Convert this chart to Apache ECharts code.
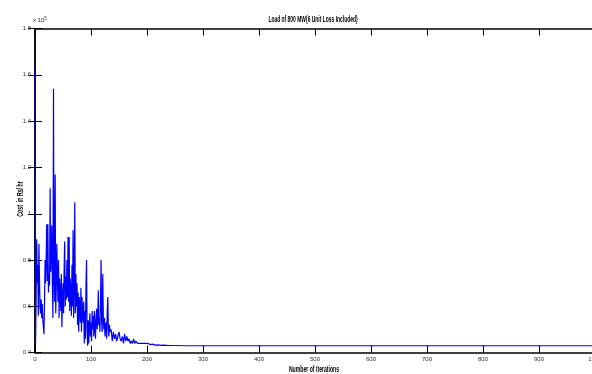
<!DOCTYPE html>
<html>
<head>
<meta charset="utf-8">
<script src="https://cdn.jsdelivr.net/npm/echarts@6/dist/echarts.min.js"></script>
<style>
html, body { margin: 0; padding: 0; overflow: hidden; background: #fff; }
#chart { width: 592px; height: 374px; }
</style>
</head>
<body>
<div id="chart"></div>
<script>
// cost values are in units of 10^5 Rs/hr
const iterations = [
  0, 1, 2, 3, 4, 5, 6, 7, 8, 9, 10, 11, 12, 13, 14, 16, 17, 18, 19, 20,
  21, 22, 23, 24, 25, 26, 27, 28, 29, 30, 31, 32, 33, 34, 35, 36, 37, 38, 39, 40,
  41, 42, 43, 44, 45, 46, 47, 48, 49, 50, 51, 52, 53, 54, 55, 56, 57, 58, 59, 60,
  61, 62, 63, 64, 65, 66, 67, 68, 69, 70, 71, 72, 73, 74, 75, 76, 77, 78, 79, 80,
  81, 82, 83, 84, 85, 86, 87, 88, 89, 90, 91, 92, 93, 94, 95, 96, 97, 98, 99, 100,
  101, 102, 103, 104, 105, 106, 107, 108, 109, 110, 111, 112, 113, 114, 115, 116, 117, 118, 119, 120,
  121, 122, 123, 124, 125, 126, 127, 128, 129, 130, 131, 132, 133, 134, 136, 138, 140, 142, 144, 146,
  148, 150, 152, 154, 156, 158, 160, 162, 164, 166, 168, 170, 172, 174, 176, 178, 180, 183, 186, 189,
  192, 195, 198, 202, 206, 210, 215, 220, 225, 230, 240, 250, 270, 300, 1000
]
const costs = [
  1.63, 0.44, 0.62, 0.89, 0.70, 0.78, 0.56, 0.87, 0.72, 0.60, 0.57, 0.63, 0.55, 0.61, 0.54, 0.48, 0.62, 0.80, 0.70, 0.82,
  0.955, 0.71, 0.955, 0.66, 0.74, 0.69, 1.11, 0.75, 0.82, 0.95, 0.70, 0.55, 1.54, 0.74, 0.62, 1.17, 0.57, 0.68, 0.87, 0.72,
  0.62, 0.80, 0.55, 0.72, 0.66, 0.58, 0.74, 0.51, 0.62, 0.70, 0.57, 0.76, 0.88, 0.60, 0.73, 0.63, 0.80, 0.64, 0.90, 0.62,
  0.90, 0.58, 0.72, 0.66, 0.56, 0.78, 0.60, 0.93, 0.55, 0.70, 1.05, 0.57, 0.74, 0.60, 0.70, 0.52, 0.66, 0.49, 0.64, 0.60,
  0.53, 0.68, 0.49, 0.64, 0.56, 0.53, 0.62, 0.44, 0.58, 0.46, 0.68, 0.80, 0.50, 0.43, 0.54, 0.44, 0.52, 0.57, 0.47, 0.53,
  0.45, 0.58, 0.50, 0.56, 0.47, 0.58, 0.52, 0.46, 0.55, 0.59, 0.50, 0.54, 0.67, 0.52, 0.55, 0.49, 0.63, 0.80, 0.53, 0.49,
  0.74, 0.55, 0.50, 0.55, 0.47, 0.52, 0.53, 0.46, 0.58, 0.64, 0.50, 0.47, 0.52, 0.49, 0.50, 0.45, 0.49, 0.46, 0.48, 0.45,
  0.47, 0.49, 0.46, 0.45, 0.47, 0.44, 0.48, 0.45, 0.47, 0.45, 0.46, 0.44, 0.45, 0.44, 0.46, 0.44, 0.45, 0.44, 0.445, 0.44,
  0.445, 0.44, 0.437, 0.44, 0.435, 0.437, 0.433, 0.434, 0.432, 0.433, 0.431, 0.431, 0.43, 0.43, 0.43
]
const titleText = 'Load of 800 MW(6 Unit Loss Included)'
const xName = 'Number of Iterations'
const yName = 'Cost  in Rs/ hr'

const chart = echarts.init(document.getElementById('chart'))
const font = "'Liberation Sans Narrow', 'Liberation Sans', Arial, sans-serif"
const nameStyle = { fontFamily: font, fontSize: 9.5, fontWeight: 'bold', fill: '#000', align: 'center', verticalAlign: 'middle' }

const axisCommon = {
  axisLine: { show: true, lineStyle: { color: '#000', width: 1.5 } },
  axisTick: { show: true, inside: true, length: 7, lineStyle: { color: '#000', width: 1 } },
  splitLine: { show: false }
}

chart.setOption({
  animation: false,
  backgroundColor: '#fff',
  // plot runs past the right edge of the window, like the reference
  grid: { left: 35, top: 28.5, right: -3, bottom: 21.3, containLabel: false, outerBoundsMode: 'none' },
  xAxis: [
    Object.assign({
      type: 'value', min: 0, max: 1000, interval: 100, position: 'bottom',
      axisLabel: { fontFamily: font, fontSize: 6, color: '#333', margin: 4, formatter: v => String(v) }
    }, axisCommon),
    Object.assign({
      type: 'value', min: 0, max: 1000, interval: 100, position: 'top',
      axisLabel: { show: false }
    }, axisCommon)
  ],
  yAxis: [
    Object.assign({
      type: 'value', min: 0.4, max: 1.8, interval: 0.2, position: 'left',
      axisLabel: { fontFamily: font, fontSize: 6, color: '#333', margin: 4 }
    }, axisCommon),
    Object.assign({
      type: 'value', min: 0.4, max: 1.8, interval: 0.2, position: 'right',
      axisLabel: { show: false }
    }, axisCommon)
  ],
  graphic: [
    {
      type: 'text', x: 313, y: 19, scaleX: 0.52,
      style: Object.assign({ text: titleText }, nameStyle)
    },
    {
      type: 'text', x: 314, y: 369, scaleX: 0.54,
      style: Object.assign({ text: xName }, nameStyle)
    },
    {
      type: 'text', x: 20, y: 199, rotation: Math.PI / 2, scaleX: 0.55,
      style: Object.assign({ text: yName }, nameStyle)
    },
    {
      type: 'text', x: 33, y: 16,
      style: {
        text: '{b|x 10}{s|5}',
        rich: {
          b: { fontFamily: font, fontSize: 6, fill: '#333' },
          s: { fontFamily: font, fontSize: 4.5, fill: '#333', verticalAlign: 'top', padding: [0, 0, 4, 0] }
        }
      }
    }
  ],
  series: [{
    type: 'line',
    xAxisIndex: 0,
    yAxisIndex: 0,
    data: iterations.map((it, i) => [it, costs[i]]),
    showSymbol: false,
    symbol: 'none',
    lineStyle: { color: '#0000ff', width: 1.2 },
    clip: true
  }]
})
</script>
</body>
</html>
